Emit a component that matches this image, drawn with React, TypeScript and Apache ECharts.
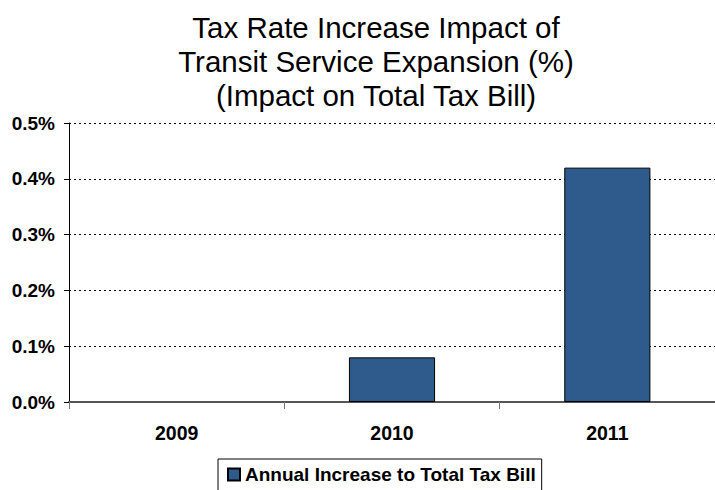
import React, { useEffect, useRef } from "react";
import * as echarts from "echarts";

const categories = ["2009", "2010", "2011"];
const values = [0, 0.08, 0.42];
const seriesName = "Annual Increase to Total Tax Bill";
const titleLines = ["Tax Rate Increase Impact of", "Transit Service Expansion (%)", "(Impact on Total Tax Bill)"];

export default function App() {
  const ref = useRef<HTMLDivElement>(null);
  useEffect(() => {
    if (!ref.current) return;
    const chart = echarts.init(ref.current, null, { renderer: "svg" });
    const font = "'Liberation Sans', Arial, sans-serif";
    chart.setOption({
      animation: false,
      backgroundColor: "#fff",
      textStyle: { fontFamily: font },
      title: {
        text: titleLines.join("\n"),
        left: 371,
        textAlign: "center",
        top: 5,
        textStyle: { fontFamily: font, fontSize: 29.5, fontWeight: "normal", color: "#000", lineHeight: 34 },
      },
      legend: {
        bottom: -6,
        left: 218,
        data: [seriesName],
        itemWidth: 12,
        itemHeight: 12,
        itemGap: 5,
        padding: [6, 6, 12, 9],
        borderColor: "#000",
        borderWidth: 1,
        textStyle: { fontFamily: font, fontSize: 19, fontWeight: "bold", color: "#000" },
        icon: "rect",
      },
      grid: { left: 69, right: -6, top: 123, bottom: 88, containLabel: false },
      xAxis: {
        type: "category",
        data: categories,
        axisLine: { show: true, lineStyle: { color: "#555", width: 2 } },
        axisTick: { show: true, length: 7, lineStyle: { color: "#777" } },
        axisLabel: { fontFamily: font, fontSize: 19.5, fontWeight: "bold", color: "#000", margin: 21 },
      },
      yAxis: {
        type: "value",
        min: 0,
        max: 0.5,
        interval: 0.1,
        axisLine: { show: true, lineStyle: { color: "#000", width: 1 } },
        axisTick: { show: true, length: 5, lineStyle: { color: "#000" } },
        axisLabel: {
          fontFamily: font,
          fontSize: 19,
          fontWeight: "bold",
          color: "#000",
          margin: 14,
          formatter: (v: number) => v.toFixed(1) + "%",
        },
        splitLine: { show: true, lineStyle: { color: "#000", type: [2, 3], width: 1 } },
      },
      series: [
        {
          name: seriesName,
          type: "bar",
          data: values.map((v) => (v === 0 ? { value: v, itemStyle: { borderWidth: 0 } } : v)),
          barWidth: "40%",
          itemStyle: { color: "#2F5B8C", borderColor: "#000", borderWidth: 1 },
        },
      ],
    });
    return () => chart.dispose();
  }, []);
  return <div ref={ref} style={{ width: 715, height: 490, position: "absolute", left: 0, top: 0 }} />;
}
